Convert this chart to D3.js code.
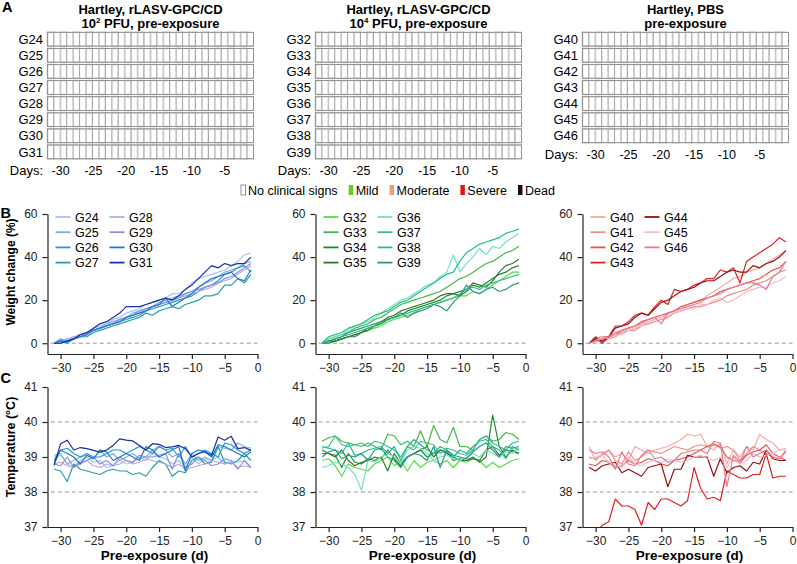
<!DOCTYPE html>
<html>
<head>
<meta charset="utf-8">
<script src="https://cdn.jsdelivr.net/npm/d3@7"></script>
<style>
  body { margin: 0; background: #fff; }
  svg { font-family: "Liberation Sans", Arial, sans-serif; }
  .axis text { font-size: 12px; fill: #222; }
  .axis path, .axis line { stroke: #222; stroke-width: 1.2; }
  .bold { font-weight: bold; }
</style>
</head>
<body>
<svg id="chart" width="797" height="564"></svg>
<script>
// ---------------- data ----------------
const days = d3.range(-31, 0);          // -31 ... -1
const gridDays = d3.range(-32, 0);      // score cells
const dayTicks = [-30, -25, -20, -15, -10, -5];
const xTicks = [-30, -25, -20, -15, -10, -5, 0];
const weightTicks = [0, 20, 40, 60];
const tempTicks = [37, 38, 39, 40, 41];

const titleLow = ['Hartley, rLASV-GPC/CD', '10{2} PFU, pre-exposure'];
const titleHigh = ['Hartley, rLASV-GPC/CD', '10{4} PFU, pre-exposure'];
const titlePbs = ['Hartley, PBS', 'pre-exposure'];

const groupsLow = ['G24', 'G25', 'G26', 'G27', 'G28', 'G29', 'G30', 'G31'];
const groupsHigh = ['G32', 'G33', 'G34', 'G35', 'G36', 'G37', 'G38', 'G39'];
const groupsPbs = ['G40', 'G41', 'G42', 'G43', 'G44', 'G45', 'G46'];

const colorsLow = ['#a3c6f2', '#7eaee8', '#1f9bd4', '#23a0a6', '#b4aaeb', '#8e8ee0', '#1f78c8', '#1b2fa6'];
const colorsHigh = ['#55dd44', '#44b84a', '#1d8a2b', '#2f7a33', '#74e2c4', '#3cb89a', '#1fc08c', '#2a9a82'];
const colorsPbs = ['#f5aaa2', '#f08c7c', '#e85252', '#e01e1e', '#981010', '#f2b8cc', '#e87a94'];

const signLabels = ['No clinical signs', 'Mild', 'Moderate', 'Severe', 'Dead'];
const signColors = ['#ffffff', '#6cc72d', '#f0a070', '#e8121c', '#111111'];

// weight change (%) per animal, days -31 ... -1
const weightLow = [
  [0,1,2,3,4,5,7,8,9,11, 12,14,15,16,18,19,20,21,23,23, 25,28,30,31,32,33,34,36,38,41, 42],
  [0,0,1,3,3,5,6,7,9,10, 11,12,14,15,16,17,19,20,21,22, 23,24,26,28,29,31,33,34,35,37, 38],
  [0,2,0,2,3,4,6,7,8,9, 10,11,12,13,15,16,17,18,19,20, 21,22,24,26,27,29,32,33,35,36, 33],
  [0,0,1,2,3,3,5,6,7,8, 9,10,11,12,14,13,15,16,17,16, 18,19,20,22,22,23,27,27,30,28, 32],
  [0,1,2,2,3,5,6,7,8,10, 11,12,13,14,16,17,18,19,20,21, 22,23,24,25,26,28,29,30,32,34, 36],
  [0,1,1,2,4,5,6,7,8,9, 11,12,13,15,16,17,18,19,20,21, 23,24,25,26,27,28,30,31,33,35, 37],
  [0,1,1,2,3,4,6,7,8,9, 10,12,13,14,15,17,18,21,17,19, 21,23,26,28,30,31,32,33,30,29, 34],
  [0,0,1,2,4,5,7,9,10,12, 14,17,17,17,18,19,20,21,20,22, 25,27,30,33,36,35,37,36,37,37, 40]
];
const weightHigh = [
  [0,1,1,2,3,4,5,6,7,8, 10,11,12,13,14,16,17,18,19,20, 21,22,22,24,23,25,27,29,31,33, 33],
  [0,2,3,4,5,7,8,9,11,12, 14,16,18,19,20,21,22,23,24,26, 28,30,31,33,35,37,38,40,42,43, 45],
  [0,0,1,2,3,4,5,6,8,9, 11,12,13,15,16,17,18,19,20,22, 23,22,24,27,26,28,30,32,33,35, 36],
  [0,1,1,2,3,3,5,7,8,10, 12,13,15,16,17,18,19,20,22,23, 23,24,25,28,27,26,29,33,36,37, 39],
  [0,2,3,4,6,8,9,10,12,14, 16,18,20,21,23,25,27,28,31,33, 41,33,37,40,44,41,45,44,47,49, 51],
  [0,1,2,3,4,5,6,7,8,10, 11,12,13,14,15,16,17,18,19,20, 21,23,25,26,25,27,28,29,30,31, 32],
  [0,3,4,5,7,8,9,11,13,14, 15,17,19,20,22,24,26,28,30,32, 33,38,42,44,46,47,48,49,51,52, 53],
  [0,1,2,3,5,6,7,8,9,10, 11,12,14,12,14,15,16,18,17,15, 19,22,27,24,23,25,26,24,25,27, 28]
];
const weightPbs = [
  [0,1,2,3,4,5,6,7,8,10, 11,12,14,15,16,18,19,20,22,24, 26,28,30,31,33,34,35,37,39,41, 43],
  [0,1,1,2,3,5,6,6,8,9, 10,11,12,14,15,16,17,17,18,19, 20,22,23,24,25,27,28,29,31,33, 34],
  [0,2,3,3,4,6,7,8,10,11, 12,13,14,15,17,18,19,20,21,22, 24,25,26,27,28,29,30,32,34,35, 38],
  [0,3,0,3,8,8,10,13,14,13, 17,20,18,25,24,25,27,28,30,30, 34,33,35,28,38,40,42,44,46,49, 47],
  [0,2,1,3,7,8,9,12,14,13, 16,19,20,22,24,25,26,28,29,29, 31,33,34,33,33,36,35,37,38,40, 43],
  [0,1,3,2,4,4,6,7,8,10, 11,12,13,14,15,16,16,18,18,20, 21,19,20,22,24,25,26,26,28,29, 31],
  [0,1,2,3,5,6,7,8,9,11, 12,9,14,15,16,17,18,19,21,22, 23,25,26,27,28,28,27,25,31,33, 38]
];

// temperature (°C) per animal, days -31 ... -1
const tempLow = [
  [39.0,39.05,38.8,38.7,38.9,39.0,38.85,38.9,38.7,38.75, 38.9,38.8,38.85,39.0,38.9,39.1,39.0,38.95,38.8,38.9, 38.7,39.0,38.8,38.95,38.9,39.0,38.8,38.9,38.85,38.9, 38.7],
  [39.05,39.1,38.8,38.9,39.0,39.05,38.95,39.2,39.0,39.1, 38.9,39.0,39.1,38.95,39.0,39.2,39.3,39.2,39.0,39.1, 38.8,39.1,38.9,39.0,38.9,39.3,39.25,39.2,39.4,39.3, 39.25],
  [38.8,39.2,39.25,39.1,39.0,39.1,39.0,39.0,39.1,39.2, 39.2,39.1,39.2,39.3,39.2,39.1,39.3,39.2,39.25,39.0, 39.3,39.0,39.1,39.2,39.1,39.0,39.4,39.35,39.2,39.1, 39.2],
  [38.65,38.6,38.3,38.8,38.65,38.6,38.55,38.5,38.6,38.65, 38.6,38.6,38.5,38.55,38.45,38.7,38.9,38.8,38.45,38.6, 38.55,38.9,39.0,38.8,38.85,39.3,38.85,38.8,38.9,39.1, 38.9],
  [38.8,38.85,38.75,38.7,38.8,38.9,38.75,38.7,38.8,38.75, 38.8,38.9,38.8,38.85,38.95,38.9,38.85,38.8,38.7,38.8, 38.65,38.7,38.75,38.8,38.9,38.85,38.8,38.85,38.7,38.75, 38.7],
  [38.8,38.75,39.0,38.7,38.85,38.9,39.0,38.8,38.9,38.75, 39.0,38.9,38.85,39.05,39.0,39.0,39.05,39.1,38.65,39.1, 38.7,38.8,39.0,38.9,38.75,38.8,38.95,38.9,38.65,38.9, 38.7],
  [38.9,39.2,39.1,39.0,38.8,39.05,38.95,39.2,39.15,38.9, 39.0,39.1,39.0,38.9,39.3,39.2,39.0,39.1,39.2,39.3, 38.6,39.1,39.2,39.15,39.0,39.35,39.3,39.2,39.1,39.0, 39.15],
  [38.76,39.38,39.48,39.2,39.27,39.24,39.19,39.14,39.2,39.33, 39.52,39.48,39.46,39.33,39.2,39.38,39.36,39.27,39.29,39.33, 39.24,39.0,39.1,39.15,39.05,39.57,39.48,39.59,39.24,39.27, 39.19]
];
const tempHigh = [
  [38.9,38.95,38.75,38.45,38.8,38.7,38.65,38.6,38.8,38.9, 39.0,38.75,38.9,38.6,38.9,38.7,38.85,38.9,38.8,38.9, 38.7,38.9,38.85,38.95,38.9,38.7,38.85,38.7,38.8,38.9, 38.95],
  [39.45,39.55,39.6,39.45,39.4,39.35,39.3,39.4,39.3,39.2, 39.65,39.6,39.35,39.45,39.3,39.75,39.3,39.9,39.5,39.4, 39.85,39.3,39.3,39.2,39.5,39.6,39.45,39.5,39.7,39.65, 39.5],
  [39.2,39.1,39.05,38.7,39.1,38.85,38.8,38.95,38.9,39.0, 38.6,39.1,38.8,39.0,39.1,39.2,39.0,39.1,39.2,39.1, 39.0,38.9,38.9,39.0,38.85,39.0,40.2,39.3,39.0,39.2, 39.1],
  [39.1,39.1,39.0,39.2,38.9,38.75,38.85,38.9,39.0,38.95, 39.2,38.95,38.75,39.0,39.1,39.2,39.3,39.0,39.2,39.15, 38.9,38.95,38.9,38.95,38.9,39.2,39.3,39.05,39.2,39.15, 39.1],
  [38.7,38.75,38.85,38.8,38.7,38.5,38.05,38.9,38.85,39.0, 39.1,39.0,38.8,39.2,39.3,39.25,39.1,38.9,39.0,39.05, 38.95,38.9,39.0,39.1,39.0,39.2,39.1,39.0,39.15,39.1, 39.25],
  [39.25,39.3,39.6,39.35,39.3,39.35,39.4,39.3,39.45,39.4, 39.3,39.2,39.0,39.3,39.2,39.45,39.4,39.35,39.1,39.25, 39.2,39.1,39.05,39.2,39.5,39.6,39.4,39.3,39.2,39.4, 39.45],
  [39.3,39.25,39.2,39.1,39.4,39.05,39.1,39.2,39.25,39.3, 39.1,39.3,38.9,39.3,39.5,39.35,39.2,39.1,39.3,39.2, 39.0,39.2,39.1,39.3,39.45,39.5,39.3,39.2,38.95,39.3, 39.2],
  [39.0,39.15,39.2,38.95,39.05,39.0,39.1,38.9,39.2,39.25, 39.0,38.9,38.7,39.0,39.1,39.05,38.9,39.3,38.7,39.2, 39.05,39.0,38.95,39.15,39.3,39.4,39.2,39.0,39.3,39.25, 39.3]
];
const tempPbs = [
  [39.3,38.9,39.1,39.2,39.0,39.1,38.9,39.3,39.2,39.1, 39.2,39.25,39.3,39.4,39.5,39.65,39.6,39.65,39.3,39.2, 39.4,38.8,39.2,39.0,39.3,39.2,39.65,39.5,39.4,39.2, 39.25],
  [39.0,38.95,39.05,39.2,38.9,38.8,39.15,38.9,39.0,39.2, 39.15,39.1,39.2,39.3,39.25,39.2,39.3,39.35,39.3,39.4, 39.25,39.3,39.2,38.9,39.1,39.3,39.2,39.1,39.0,38.95, 39.2],
  [38.8,38.75,38.9,38.85,38.7,38.75,38.9,38.8,38.85,38.95, 38.9,38.8,38.75,38.9,38.95,39.0,39.1,39.2,39.3,39.35, 39.3,39.0,38.9,38.85,39.05,39.15,39.2,39.35,39.1,39.0, 38.9],
  [36.6,36.8,37.05,37.15,37.8,37.6,37.6,37.5,37.05,37.7, 37.5,37.8,37.8,37.7,37.6,37.75,38.7,38.1,37.8,37.85, 37.75,38.6,38.5,38.4,38.4,38.5,38.5,39.1,38.4,38.45, 38.45],
  [38.7,38.6,38.75,38.8,38.85,38.55,38.65,38.55,38.45,38.7, 38.75,38.8,38.15,38.65,38.65,39.05,39.0,39.0,39.0,38.45, 38.95,38.55,38.7,38.75,38.6,38.85,38.8,39.2,38.95,38.9, 38.9],
  [38.95,39.0,39.05,38.85,38.75,38.7,39.0,38.8,38.75,38.85, 38.9,38.85,38.95,38.9,38.85,38.9,39.0,39.05,38.95,38.9, 39.0,38.7,39.0,38.8,38.9,39.1,39.0,39.05,39.1,39.2, 39.2],
  [39.2,39.1,39.15,39.0,38.65,39.15,38.8,38.75,39.05,39.2, 38.95,39.0,38.85,38.9,39.1,39.15,39.2,39.2,39.1,39.45, 39.4,38.15,39.05,38.85,39.3,39.0,39.1,39.2,39.0,38.95, 39.15]
];

// ---------------- drawing ----------------
const svg = d3.select('#chart');
const plotWidth = 210;

class ScoreGrid {
  constructor(_config, _groups) {
    this.config = {
      left: _config.left,
      top: 32.3,
      gridWidth: 206,
      rowPitch: 16.1,
      rowHeight: 13.8,
      title: _config.title
    };
    this.groups = _groups;
    this.initVis();
  }

  initVis() {
    let vis = this;
    const c = vis.config;
    vis.g = svg.append('g').attr('transform', `translate(${c.left},0)`);

    vis.band = d3.scaleBand().domain(gridDays).range([0, c.gridWidth]);
    vis.xScale = d3.scaleLinear().domain([-32, 0]).range([0, plotWidth]);

    // title, with {n} read as a superscript (raised with dy so it stays one text chunk)
    c.title.forEach((line, i) => {
      const t = vis.g.append('text')
        .attr('class', 'bold')
        .attr('x', c.gridWidth / 2)
        .attr('y', 13.5 + i * 14)
        .attr('text-anchor', 'middle')
        .style('font-size', '13px');
      let shift = 0;
      line.split(/(\{\d\})/).filter(p => p.length).forEach(part => {
        if (part.startsWith('{')) {
          t.append('tspan').attr('dy', -5).style('font-size', '8px').text(part.slice(1, -1));
          shift = 5;
        } else {
          t.append('tspan').attr('dy', shift).text(part);
          shift = 0;
        }
      });
    });

    vis.rows = vis.g.selectAll('.row')
      .data(vis.groups)
      .join('g')
      .attr('class', 'row')
      .attr('transform', (d, i) => `translate(0,${c.top + i * c.rowPitch})`);

    vis.rows.selectAll('rect')
      .data(gridDays)
      .join('rect')
      .attr('x', d => vis.band(d))
      .attr('y', 0)
      .attr('width', vis.band.bandwidth())
      .attr('height', c.rowHeight)
      .attr('fill', '#fff')
      .attr('stroke', (d, i) => i % 2 ? '#9a9a9a' : '#c4c4c4')
      .attr('stroke-width', (d, i) => i % 2 ? 0.8 : 1.6);

    vis.rows.append('rect')
      .attr('width', c.gridWidth)
      .attr('height', c.rowHeight)
      .attr('fill', 'none')
      .attr('stroke', '#8a8a8a')
      .attr('stroke-width', 0.8);

    vis.rows.append('text')
      .attr('x', -4.5)
      .attr('y', c.rowHeight / 2 + 4.6)
      .attr('text-anchor', 'end')
      .style('font-size', '13px')
      .text(d => d);

    const dayY = c.top + vis.groups.length * c.rowPitch + 14;
    vis.g.append('text')
      .attr('x', -4.5)
      .attr('y', dayY)
      .attr('text-anchor', 'end')
      .style('font-size', '13px')
      .text('Days:');

    vis.g.selectAll('.day-label')
      .data(dayTicks)
      .join('text')
      .attr('class', 'day-label')
      .attr('x', d => vis.xScale(d))
      .attr('y', dayY)
      .attr('text-anchor', 'middle')
      .style('font-size', '12.5px')
      .text(d => d);
  }
}

class LineChart {
  constructor(_config, _data) {
    this.config = {
      left: _config.left,
      top: _config.top,
      width: plotWidth,
      height: 140,
      yDomain: _config.yDomain,
      yTicks: _config.yTicks,
      refLines: _config.refLines,
      showLegend: _config.showLegend,
      xLabel: _config.xLabel,
      id: _config.id
    };
    this.data = _data;
    this.initVis();
    this.renderVis();
  }

  initVis() {
    let vis = this;
    const c = vis.config;
    vis.g = svg.append('g').attr('transform', `translate(${c.left},${c.top})`);

    vis.xScale = d3.scaleLinear().domain([-32, 0]).range([0, c.width]);
    vis.yScale = d3.scaleLinear().domain(c.yDomain).range([c.height, 0]);

    vis.xAxis = d3.axisBottom(vis.xScale).tickValues(xTicks).tickFormat(d3.format('d'))
      .tickSize(5).tickPadding(4).tickSizeOuter(0);
    vis.yAxis = d3.axisLeft(vis.yScale).tickValues(c.yTicks).tickFormat(d3.format('d'))
      .tickSize(5).tickPadding(5).tickSizeOuter(0);

    vis.g.append('g')
      .attr('class', 'axis x-axis')
      .attr('transform', `translate(0,${c.height})`)
      .call(vis.xAxis);
    vis.g.append('g')
      .attr('class', 'axis y-axis')
      .call(vis.yAxis);

    vis.g.selectAll('.ref-line')
      .data(c.refLines)
      .join('line')
      .attr('class', 'ref-line')
      .attr('x1', vis.xScale(-31.5))
      .attr('x2', vis.xScale(0))
      .attr('y1', d => vis.yScale(d))
      .attr('y2', d => vis.yScale(d))
      .attr('stroke', '#999')
      .attr('stroke-width', 1)
      .attr('stroke-dasharray', '4,3');

    vis.g.append('defs').append('clipPath')
      .attr('id', `clip-${c.id}`)
      .append('rect')
      .attr('width', c.width)
      .attr('height', c.height);

    vis.chart = vis.g.append('g').attr('clip-path', `url(#clip-${c.id})`);

    if (c.xLabel) {
      vis.g.append('text')
        .attr('class', 'bold')
        .attr('x', c.width / 2 + 2)
        .attr('y', c.height + 32.5)
        .attr('text-anchor', 'middle')
        .style('font-size', '13.5px')
        .text(c.xLabel);
    }
  }

  renderVis() {
    let vis = this;
    const c = vis.config;
    const series = vis.data.groups.map((name, i) => ({
      name: name,
      color: vis.data.colors[i],
      values: vis.data.values[i]
    }));

    vis.line = d3.line()
      .x((d, i) => vis.xScale(days[i]))
      .y(d => vis.yScale(d));

    vis.chart.selectAll('.series')
      .data(series, d => d.name)
      .join('path')
      .attr('class', 'series')
      .attr('fill', 'none')
      .attr('stroke', d => d.color)
      .attr('stroke-width', 1.2)
      .attr('stroke-linejoin', 'round')
      .attr('d', d => vis.line(d.values));

    if (c.showLegend) {
      const legend = vis.g.selectAll('.legend-item')
        .data(series)
        .join('g')
        .attr('class', 'legend-item')
        .attr('transform', (d, i) => `translate(${i < 4 ? 8 : 62},${3 + (i % 4) * 15.2})`);
      legend.append('line')
        .attr('x1', 0).attr('x2', 15)
        .attr('stroke', d => d.color)
        .attr('stroke-width', 1.8);
      legend.append('text')
        .attr('x', 19.5)
        .attr('y', 4.5)
        .style('font-size', '12.5px')
        .text(d => d.name);
    }
  }
}

// column x positions of the three groups (y axis / grid left edge)
const colLeft = [47.5, 315.5, 582.5];
const columns = [
  {title: titleLow, groups: groupsLow, colors: colorsLow, weight: weightLow, temp: tempLow},
  {title: titleHigh, groups: groupsHigh, colors: colorsHigh, weight: weightHigh, temp: tempHigh},
  {title: titlePbs, groups: groupsPbs, colors: colorsPbs, weight: weightPbs, temp: tempPbs}
];

columns.forEach((col, k) => {
  new ScoreGrid({left: colLeft[k], title: col.title}, col.groups);
  new LineChart({
    id: `w${k}`, left: colLeft[k], top: 214, yDomain: [-5, 60], yTicks: weightTicks,
    refLines: [0], showLegend: true
  }, {groups: col.groups, colors: col.colors, values: col.weight});
  new LineChart({
    id: `t${k}`, left: colLeft[k], top: 387, yDomain: [37, 41], yTicks: tempTicks,
    refLines: [38, 40], showLegend: false, xLabel: 'Pre-exposure (d)'
  }, {groups: col.groups, colors: col.colors, values: col.temp});
});

// clinical sign legend
let lx = 241;
signLabels.forEach((label, i) => {
  svg.append('rect')
    .attr('x', lx).attr('y', 185)
    .attr('width', 4.5).attr('height', 10)
    .attr('fill', signColors[i])
    .attr('stroke', i === 0 ? '#777' : 'none')
    .attr('stroke-width', 0.8);
  const t = svg.append('text')
    .attr('x', lx + 7)
    .attr('y', 194.5)
    .style('font-size', '12.5px')
    .text(label);
  lx += 7 + t.node().getComputedTextLength() + 11;
});

// axis titles and panel letters
svg.append('text').attr('class', 'bold')
  .attr('transform', 'translate(14.5,272) rotate(-90)')
  .attr('text-anchor', 'middle')
  .style('font-size', '12px')
  .text('Weight change (%)');
svg.append('text').attr('class', 'bold')
  .attr('transform', 'translate(14.5,447) rotate(-90)')
  .attr('text-anchor', 'middle')
  .style('font-size', '12.5px')
  .text('Temperature (°C)');

[['A', 2, 11.5], ['B', 0.5, 217.5], ['C', 0.5, 382.5]].forEach(([s, x, y]) => {
  svg.append('text').attr('class', 'bold')
    .attr('x', x).attr('y', y)
    .style('font-size', '14.5px')
    .text(s);
});
</script>
</body>
</html>
